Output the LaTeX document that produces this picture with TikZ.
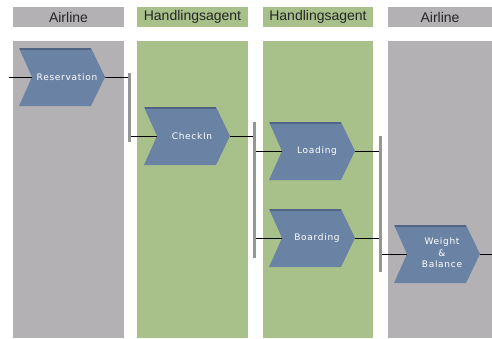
\documentclass[tikz,border=0pt]{standalone}
\usepackage{fontspec}
\setmainfont{Liberation Sans}
\newfontfamily\chvfont[LetterSpace=8]{DejaVu Sans}
\usetikzlibrary{backgrounds,calc}
\definecolor{lanegray}{RGB}{179,177,180}
\definecolor{lanegreen}{RGB}{168,192,138}
\definecolor{chevblue}{RGB}{106,131,165}
\definecolor{chevdark}{RGB}{80,100,132}
\definecolor{bargray}{RGB}{150,150,150}
\tikzset{
  hdr/.style={inner sep=0pt, minimum height=20pt, text=black!85, font=\fontsize{14}{16}\selectfont},
  chev/.style={text=white, font=\chvfont\fontsize{9}{11.5}\selectfont, align=center, inner sep=0pt},
  barnode/.style={fill=bargray, inner sep=0pt, minimum width=3pt},
  conn/.style={draw=black, line width=0.8pt},
}
\newcommand\chevronshape[1]{%
  \fill[chevblue] ($(#1.center)+(-48,-29)$) -- ++(72,0) -- ++(14,29) -- ++(-14,29) -- ++(-72,0) -- ++(13,-29) -- cycle;
  \draw[chevdark, line width=1.6pt] ($(#1.center)+(-47,-28.2)$) -- ++(71,0);
}
\begin{document}
\begin{tikzpicture}[x=1pt,y=-1pt]
\useasboundingbox (0,0) rectangle (492,338);
\begin{pgfonlayer}{background}
  \fill[white] (0,0) rectangle (492,338);
  \fill[lanegray]  (13,41) rectangle (124,338);
  \fill[lanegreen] (137,41) rectangle (248,338);
  \fill[lanegreen] (263,41) rectangle (373,338);
  \fill[lanegray]  (388,41) rectangle (492,338);
\end{pgfonlayer}
% headers
\node[hdr, fill=lanegray,  minimum width=111pt] (h1) at (68.5,17) {Airline};
\node[hdr, fill=lanegreen, minimum width=111pt] (h2) at (192.5,17) {Handlingsagent};
\node[hdr, fill=lanegreen, minimum width=110pt] (h3) at (318,17) {Handlingsagent};
\node[hdr, fill=lanegray,  minimum width=104pt] (h4) at (440,17) {Airline};
% functions
\node[chev] (res) at (67,77) {Reservation};
\node[chev] (chk) at (192,136) {CheckIn};
\node[chev] (load) at (317,151) {Loading};
\node[chev] (board) at (317,238) {Boarding};
\node[chev] (wb) at (442,253) {Weight\\\&\\Balance};
\begin{pgfonlayer}{background}
  \chevronshape{res}
  \chevronshape{chk}
  \chevronshape{load}
  \chevronshape{board}
  \coordinate (wbc) at (442,254);
  \chevronshape{wbc}
\end{pgfonlayer}
% bars
\node[barnode, minimum height=69pt]  (bar1) at (129.5,107.5) {};
\node[barnode, minimum height=136pt] (bar2) at (254.5,190) {};
\node[barnode, minimum height=136pt] (bar3) at (380.5,204) {};
% connectors
\coordinate (in) at (9,77);
\coordinate (out) at (492,254);
\draw[conn] (in) -- ($(res.center)+(-35,0)$);
\draw[conn] ($(res.center)+(38,0)$) -- (res.center -| bar1.west);
\draw[conn] (chk.center -| bar1.east) -- ($(chk.center)+(-35,0)$);
\draw[conn] ($(chk.center)+(38,0)$) -- (chk.center -| bar2.west);
\draw[conn] (load.center -| bar2.east) -- ($(load.center)+(-35,0)$);
\draw[conn] (board.center -| bar2.east) -- ($(board.center)+(-35,0)$);
\draw[conn] ($(load.center)+(38,0)$) -- (load.center -| bar3.west);
\draw[conn] ($(board.center)+(38,0)$) -- (board.center -| bar3.west);
\draw[conn] (wbc -| bar3.east) -- ($(wbc)+(-35,0)$);
\draw[conn] ($(wbc)+(38,0)$) -- (out);
\end{tikzpicture}
\end{document}
